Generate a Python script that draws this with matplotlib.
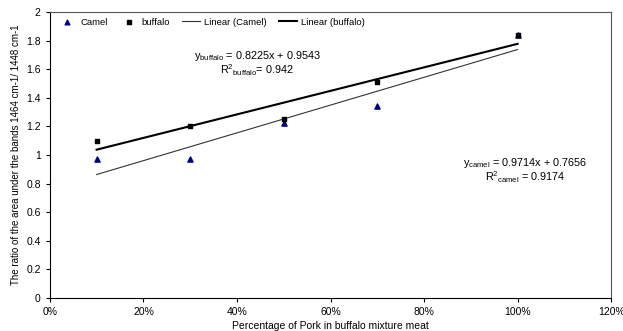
import matplotlib.pyplot as plt
import numpy as np

plt.rcParams['font.family'] = ['Liberation Sans', 'DejaVu Sans']

# Pork fraction in the mixture and band-area ratios
pork = [0.1, 0.3, 0.5, 0.7, 1.0]
camel = [0.97, 0.97, 1.22, 1.34, 1.84]
buffalo = [1.10, 1.20, 1.25, 1.51, 1.84]

# Linear fits (slope, intercept, R^2)
camel_fit = (0.9714, 0.7656, 0.9174)
buffalo_fit = (0.8225, 0.9543, 0.942)

fig = plt.figure(figsize=(6.23, 3.31), dpi=100)
ax = fig.add_axes([0.080, 0.100, 0.901, 0.864])

ax.scatter(pork, camel, marker='^', s=14, color='#00007f', label='Camel', zorder=3)
ax.scatter(pork, buffalo, marker='s', s=12, color='black', label='buffalo', zorder=4)

xs = np.array([pork[0], pork[-1]])
ax.plot(xs, camel_fit[0] * xs + camel_fit[1], color='#333333', lw=0.8, label='Linear (Camel)')
ax.plot(xs, buffalo_fit[0] * xs + buffalo_fit[1], color='black', lw=1.5, label='Linear (buffalo)')

# fit equations, two lines each
buf_txt = (r'y$_{\mathregular{buffalo}}$ = %.4fx + %.4f' % buffalo_fit[:2] + '\n'
           + r'R$^{\mathregular{2}}$$_{\mathregular{buffalo}}$= %.3f' % buffalo_fit[2])
cam_txt = (r'y$_{\mathregular{camel}}$ = %.4fx + %.4f' % camel_fit[:2] + '\n'
           + r'R$^{\mathregular{2}}$$_{\mathregular{camel}}$ = %.4f' % camel_fit[2])
ax.text(0.443, 1.638, buf_txt, fontsize=7.8, ha='center', va='center',
        multialignment='center', linespacing=1.0)
ax.text(1.016, 0.890, cam_txt, fontsize=7.8, ha='center', va='center',
        multialignment='center', linespacing=1.0)

ax.set_xlim(0, 1.2)
ax.set_ylim(0, 2)
ax.set_xticks(np.arange(0, 1.21, 0.2))
ax.set_xticklabels(['0%', '20%', '40%', '60%', '80%', '100%', '120%'])
ax.set_yticks(np.arange(0, 2.01, 0.2))
ax.set_yticklabels(['0', '0.2', '0.4', '0.6', '0.8', '1', '1.2', '1.4', '1.6', '1.8', '2'])
ax.tick_params(labelsize=7.5, length=3, width=0.8)

for side in ['top', 'right']:
    ax.spines[side].set_color('#555555')
    ax.spines[side].set_linewidth(0.8)
for side in ['left', 'bottom']:
    ax.spines[side].set_linewidth(0.8)

ax.set_xlabel('Percentage of Pork in buffalo mixture meat', fontsize=7.5, labelpad=3)
ax.set_ylabel('The ratio of the area under the bands 1464 cm-1/ 1448 cm-1',
              fontsize=7, fontstretch='condensed')

ax.legend(ncol=4, loc='upper left', bbox_to_anchor=(0.0, 1.01), frameon=False,
          fontsize=6.8, handlelength=1.9, columnspacing=1.3, handletextpad=0.4,
          markerscale=0.9)

fig.savefig('out.png', dpi=100)
